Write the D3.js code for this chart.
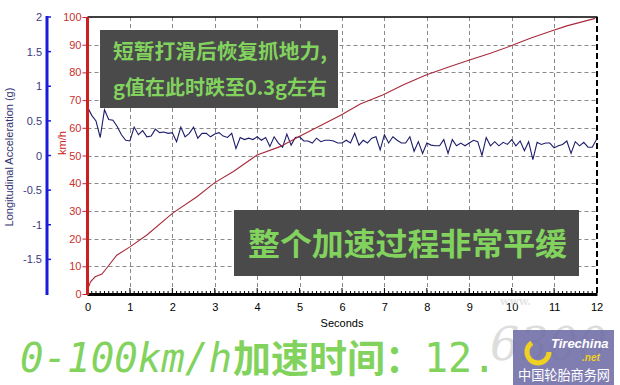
<!DOCTYPE html>
<html><head><meta charset="utf-8">
<script src="https://cdn.jsdelivr.net/npm/d3@7"></script>
<style>body{margin:0;background:#fff}svg{display:block}</style>
</head><body>
<script>
// ---- data ----
const speedTimes = [0,0.07,0.18,0.34,0.45,0.69,1.0,1.4,2.0,2.58,3.0,3.44,4.0,4.54,4.98,5.98,6.43,6.96,7.45,7.98,8.55,8.97,9.5,9.97,10.44,10.97,11.3,11.97];
const speedValues = [1.5,4.4,6.2,7.2,9.3,14,17,21.3,29.1,35.1,40.2,44.2,50.2,53.2,56.8,64.6,68.6,71.8,75.5,79.1,82.1,84.3,86.9,89.5,92.3,95.1,96.8,99.5];
const accelStep = 0.1; // sampling interval (s)
const accelValues = [
0.70,0.58,0.50,0.26,0.66,0.52,0.51,0.42,0.30,0.22,
0.21,0.41,0.30,0.36,0.27,0.28,0.38,0.33,0.34,0.32,
0.33,0.20,0.41,0.27,0.32,0.41,0.25,0.32,0.32,0.27,
0.31,0.33,0.28,0.26,0.32,0.10,0.26,0.23,0.25,0.23,
0.27,0.22,0.26,0.13,0.27,0.18,0.12,0.31,0.15,0.26,
0.27,0.21,0.21,0.18,0.25,0.20,0.22,0.22,0.21,0.18,
0.18,0.22,0.18,0.32,0.15,0.22,0.18,0.25,0.27,0.08,
0.30,0.18,0.27,0.22,0.18,0.18,0.27,0.06,0.20,0.03,
0.18,0.15,0.14,0.14,0.23,0.03,0.23,0.14,0.18,0.14,
0.18,0.22,0.20,0.00,0.26,0.14,0.20,0.14,0.19,0.16,
0.23,0.14,0.21,0.07,0.20,-0.06,0.19,0.16,0.18,0.18,
0.11,0.14,0.16,0.21,0.03,0.20,0.14,0.19,0.12,0.12,
0.23];
const xTicks = [0,1,2,3,4,5,6,7,8,9,10,11,12];
const speedTicks = [0,10,20,30,40,50,60,70,80,90,100];
const accelTicks = [-1.5,-1,-0.5,0,0.5,1,1.5,2];
const xLabel = "Seconds";
const accelLabel = "Longitudinal Acceleration (g)";
const speedLabel = "km/h";
const note1 = ["短暂打滑后恢复抓地力,", "g值在此时跌至0.3g左右"];
const note2 = "整个加速过程非常平缓";
const footA = "0-100km/h", footB = "加速时间：", footC = "12.";

// ---- layout ----
const W = 620, H = 385;
const pL = 87.5, pR = 596.5, pT = 17, pB = 294;
const svg = d3.select("body").append("svg").attr("width", W).attr("height", H)
  .style("font-family", "'Liberation Sans', Arial, sans-serif");

const x = d3.scaleLinear().domain([0, 12]).range([pL, pR]);
const yS = d3.scaleLinear().domain([0, 100]).range([pB, pT]);
const yA = d3.scaleLinear().domain([-2, 2]).range([pB, pT]);

// grid
const grid = svg.append("g").attr("stroke", "#8a8a8a").attr("stroke-dasharray", "4,3").attr("stroke-width", 1);
grid.selectAll("line.h").data(speedTicks.filter(d => d > 0 && d < 100)).join("line").attr("class", "h")
  .attr("x1", pL).attr("x2", pR).attr("y1", d => Math.round(yS(d)) + 0.5).attr("y2", d => Math.round(yS(d)) + 0.5);
grid.selectAll("line.v").data(xTicks.filter(d => d > 0 && d < 12)).join("line").attr("class", "v")
  .attr("y1", pT).attr("y2", pB).attr("x1", d => Math.round(x(d)) + 0.5).attr("x2", d => Math.round(x(d)) + 0.5);

// frame top / right
svg.append("line").attr("x1", pL).attr("x2", pR + 1).attr("y1", pT).attr("y2", pT).attr("stroke", "#000").attr("stroke-width", 1.5);
svg.append("line").attr("x1", pR + 0.5).attr("x2", pR + 0.5).attr("y1", pT).attr("y2", pB)
  .attr("stroke", "#000").attr("stroke-width", 2).attr("stroke-dasharray", "6,3");

// watermark (behind footer text)
const cjk = "'Noto Sans CJK SC', 'Noto Sans', sans-serif";
svg.append("text").attr("x", 490).attr("y", 360).attr("font-family", "'DejaVu Serif', serif").attr("font-style", "italic")
  .attr("font-size", 46).attr("fill", "#bdbdbd").attr("opacity", 0.5).text("6300");

// data lines
const speedData = speedTimes.map((t, i) => [t, speedValues[i]]);
const accelData = accelValues.map((v, i) => [i * accelStep, v]);
svg.append("path").datum(accelData).attr("fill", "none").attr("stroke", "#1c1c6a").attr("stroke-width", 1.1)
  .attr("d", d3.line().x(d => x(d[0])).y(d => yA(d[1])));
svg.append("path").datum(speedData).attr("fill", "none").attr("stroke", "#a82a3a").attr("stroke-width", 1.1)
  .attr("d", d3.line().x(d => x(d[0])).y(d => yS(d[1])));

// x axis
const xa = svg.append("g").attr("transform", `translate(0,${pB})`)
  .call(d3.axisBottom(x).tickValues(xTicks).tickSize(0).tickPadding(9).tickFormat(d3.format("d")));
xa.select(".domain").remove();
xa.selectAll("text").attr("font-size", 11).attr("fill", "#000").attr("font-family", "'Liberation Sans', Arial, sans-serif");
const minorX = d3.range(0, 121).map(i => i / 10);
svg.append("g").selectAll("line").data(minorX).join("line")
  .attr("x1", d => x(d)).attr("x2", d => x(d)).attr("y1", pB).attr("y2", d => pB - (Math.abs(d - Math.round(d)) < 1e-6 ? 6 : 3))
  .attr("stroke", "#000").attr("stroke-width", 1);
svg.append("line").attr("x1", pL).attr("x2", pR + 1).attr("y1", pB + 0.5).attr("y2", pB + 0.5).attr("stroke", "#000").attr("stroke-width", 3);
svg.append("text").attr("x", 342).attr("y", 327).attr("text-anchor", "middle").attr("font-size", 11).attr("fill", "#000").text(xLabel);

// red speed axis
const ra = svg.append("g").attr("transform", `translate(${pL},0)`)
  .call(d3.axisLeft(yS).tickValues(speedTicks).tickSize(5).tickPadding(1));
ra.select(".domain").remove();
ra.selectAll("line").attr("stroke", "#cc2020");
ra.selectAll("text").attr("font-size", 11).attr("fill", "#c83030").attr("font-family", "'Liberation Sans', Arial, sans-serif");
svg.append("line").attr("x1", pL).attr("x2", pL).attr("y1", pT).attr("y2", pB + 1).attr("stroke", "#cc1f1f").attr("stroke-width", 3);
svg.append("text").attr("transform", `translate(66,143) rotate(-90)`).attr("text-anchor", "middle")
  .attr("font-size", 11).attr("fill", "#cc2020").text(speedLabel);

// blue accel axis
const axA = 47;
const ba = svg.append("g").attr("transform", `translate(${axA},0)`)
  .call(d3.axisLeft(yA).tickValues(accelTicks).tickSize(0).tickPadding(5).tickFormat(d => String(d)));
ba.select(".domain").remove();
ba.selectAll("text").attr("font-size", 11).attr("fill", "#3a3a80").attr("font-family", "'Liberation Sans', Arial, sans-serif");
svg.append("g").selectAll("line").data(accelTicks).join("line")
  .attr("x1", axA).attr("x2", axA + 4).attr("y1", d => yA(d)).attr("y2", d => yA(d)).attr("stroke", "#1a1adc").attr("stroke-width", 1.5);
svg.append("line").attr("x1", axA).attr("x2", axA).attr("y1", pT - 1).attr("y2", pB + 1).attr("stroke", "#1a1adc").attr("stroke-width", 3);
svg.append("text").attr("transform", `translate(13,157) rotate(-90)`).attr("text-anchor", "middle")
  .attr("font-size", 11).attr("fill", "#333370").text(accelLabel);

// annotation boxes
const green = "#82d35e";
svg.append("rect").attr("x", 100).attr("y", 30).attr("width", 238).attr("height", 78).attr("fill", "#4a4a4a");
note1.forEach((t, i) => {
  svg.append("text").attr("x", 113).attr("y", 59 + i * 36).attr("font-family", cjk).attr("font-weight", "bold")
    .attr("font-size", 20).attr("fill", green).attr("textLength", 214).attr("lengthAdjust", "spacingAndGlyphs").text(t);
});
svg.append("rect").attr("x", 234).attr("y", 210).attr("width", 345).attr("height", 66).attr("fill", "#4a4a4a");
svg.append("text").attr("x", 248).attr("y", 255).attr("font-family", cjk).attr("font-weight", "bold")
  .attr("font-size", 31).attr("fill", green).attr("textLength", 319).attr("lengthAdjust", "spacingAndGlyphs").text(note2);

// footer title
const foot = svg.append("text").attr("y", 372).attr("fill", green);
foot.append("tspan").attr("x", 20).attr("font-family", "'DejaVu Sans Mono', monospace").attr("font-style", "italic")
  .attr("font-size", 40).attr("textLength", 212).attr("lengthAdjust", "spacingAndGlyphs").text(footA);
foot.append("tspan").attr("x", 233).attr("font-family", cjk).attr("font-weight", "bold").attr("font-size", 38).text(footB);
foot.append("tspan").attr("x", 424).attr("font-family", "'DejaVu Sans Mono', monospace").attr("font-size", 40).text(footC);

// watermark logo box
const wm = svg.append("g");
wm.append("text").attr("x", 500).attr("y", 305).attr("font-family", "'DejaVu Serif', serif").attr("font-weight", "bold")
  .attr("font-size", 11).attr("fill", "#d4d4d4").attr("opacity", 0.6).text("www.");
wm.append("rect").attr("x", 513).attr("y", 330).attr("width", 101).attr("height", 55).attr("fill", "#6e6ca6").attr("opacity", 0.88);
wm.append("circle").attr("cx", 538).attr("cy", 352).attr("r", 11).attr("fill", "none").attr("stroke", "#f0d020").attr("stroke-width", 5)
  .attr("stroke-dasharray", "45,25");
wm.append("text").attr("x", 551).attr("y", 348).attr("font-style", "italic").attr("font-weight", "bold")
  .attr("font-size", 13).attr("fill", "#fff").text("Tirechina");
wm.append("text").attr("x", 582).attr("y", 361).attr("font-style", "italic").attr("font-weight", "bold")
  .attr("font-size", 10).attr("fill", "#f0d020").text(".net");
wm.append("text").attr("x", 518).attr("y", 380).attr("font-family", cjk).attr("font-size", 14).attr("fill", "#fff")
  .attr("textLength", 92).attr("lengthAdjust", "spacingAndGlyphs").text("中国轮胎商务网");
</script>
</body></html>
